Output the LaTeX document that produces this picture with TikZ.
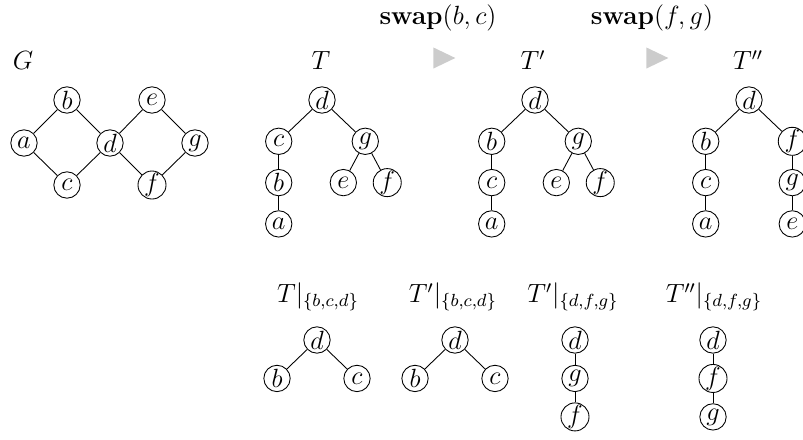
\documentclass[tikz,border=0pt]{standalone}
\usepackage{amsmath,amssymb}
\usepackage{xcolor}
\usetikzlibrary{positioning,shapes.geometric}

\begin{document}
\begin{tikzpicture}[
  x=0.4552pt, y=-0.4552pt, font=\large,
  node distance=18.8pt and 19.7pt, on grid,
  vtx/.style={circle,draw,inner sep=0pt,minimum size=12pt},
  ttl/.style={inner sep=0pt},
  play/.style={isosceles triangle,isosceles triangle stretches,fill=black!20,inner sep=0pt,minimum width=9.6pt,minimum height=10pt},
  edge/.style={thin}]
\useasboundingbox (0,0) rectangle (803,439);

% the graph G
\node[ttl] (lG) at (23,60) {$G$};
\node[vtx] (ga) at (24,143) {$a$};
\node[vtx] (gb) at (67,100) {$b$};
\node[vtx] (gc) at (67,185) {$c$};
\node[vtx] (gd) at (110,143) {$d$};
\node[vtx] (ge) at (152,100) {$e$};
\node[vtx] (gf) at (152,185) {$f$};
\node[vtx] (gg) at (195,143) {$g$};
\draw[edge] (ga) -- (gb) -- (gd) -- (gc) -- (ga);
\draw[edge] (gd) -- (ge) -- (gg) -- (gf) -- (gd);

% swaps
\node[ttl] (sw1) at (438,18) {$\mathbf{swap}(b,c)$};
\node[ttl] (sw2) at (652,18) {$\mathbf{swap}(f,g)$};
\node[play] (ar1) at (440,58) {};
\node[play] (ar2) at (653,58) {};

% tree T
\node[ttl] (lT) at (321,60) {$T$};
\node[vtx] (td) at (322,100) {$d$};
\node[vtx,below left=of td] (tc) {$c$};
\node[vtx,below right=of td] (tg) {$g$};
\node[vtx,below=of tc] (tb) {$b$};
\node[vtx,below=of tb] (ta) {$a$};
\node[vtx,below left=18.8pt and 10pt of tg] (te) {$e$};
\node[vtx,below right=18.8pt and 10pt of tg] (tf) {$f$};
\draw[edge] (tc) -- (td) -- (tg);
\draw[edge] (tc) -- (tb) -- (ta);
\draw[edge] (te) -- (tg) -- (tf);

% tree T'
\node[ttl] (lT1) at (533,60) {$T'$};
\node[vtx] (pd) at (535,100) {$d$};
\node[vtx,below left=of pd] (pb) {$b$};
\node[vtx,below right=of pd] (pg) {$g$};
\node[vtx,below=of pb] (pc) {$c$};
\node[vtx,below=of pc] (pa) {$a$};
\node[vtx,below left=18.8pt and 10pt of pg] (pe) {$e$};
\node[vtx,below right=18.8pt and 10pt of pg] (pf) {$f$};
\draw[edge] (pb) -- (pd) -- (pg);
\draw[edge] (pb) -- (pc) -- (pa);
\draw[edge] (pe) -- (pg) -- (pf);

% tree T''
\node[ttl] (lT2) at (748,60) {$T''$};
\node[vtx] (qd) at (749,100) {$d$};
\node[vtx,below left=of qd] (qb) {$b$};
\node[vtx,below right=of qd] (qf) {$f$};
\node[vtx,below=of qb] (qc) {$c$};
\node[vtx,below=of qc] (qa) {$a$};
\node[vtx,below=of qf] (qg) {$g$};
\node[vtx,below=of qg] (qe) {$e$};
\draw[edge] (qb) -- (qd) -- (qf);
\draw[edge] (qb) -- (qc) -- (qa);
\draw[edge] (qf) -- (qg) -- (qe);

% restrictions
\begin{scope}[node distance=17.5pt and 18.2pt]
\node[ttl] (lR1) at (318,297) {$T|_{\{b,c,d\}}$};
\node[vtx] (r1d) at (317,340) {$d$};
\node[vtx,below left=of r1d] (r1b) {$b$};
\node[vtx,below right=of r1d] (r1c) {$c$};
\draw[edge] (r1b) -- (r1d) -- (r1c);

\node[ttl] (lR2) at (453,297) {$T'|_{\{b,c,d\}}$};
\node[vtx] (r2d) at (455,340) {$d$};
\node[vtx,below left=of r2d] (r2b) {$b$};
\node[vtx,below right=of r2d] (r2c) {$c$};
\draw[edge] (r2b) -- (r2d) -- (r2c);

\node[ttl] (lR3) at (573,297) {$T'|_{\{d,f,g\}}$};
\node[vtx] (r3d) at (575,340) {$d$};
\node[vtx,below=of r3d] (r3g) {$g$};
\node[vtx,below=of r3g] (r3f) {$f$};
\draw[edge] (r3d) -- (r3g) -- (r3f);

\node[ttl] (lR4) at (714,297) {$T''|_{\{d,f,g\}}$};
\node[vtx] (r4d) at (713,340) {$d$};
\node[vtx,below=of r4d] (r4f) {$f$};
\node[vtx,below=of r4f] (r4g) {$g$};
\draw[edge] (r4d) -- (r4f) -- (r4g);
\end{scope}
\end{tikzpicture}
\end{document}
